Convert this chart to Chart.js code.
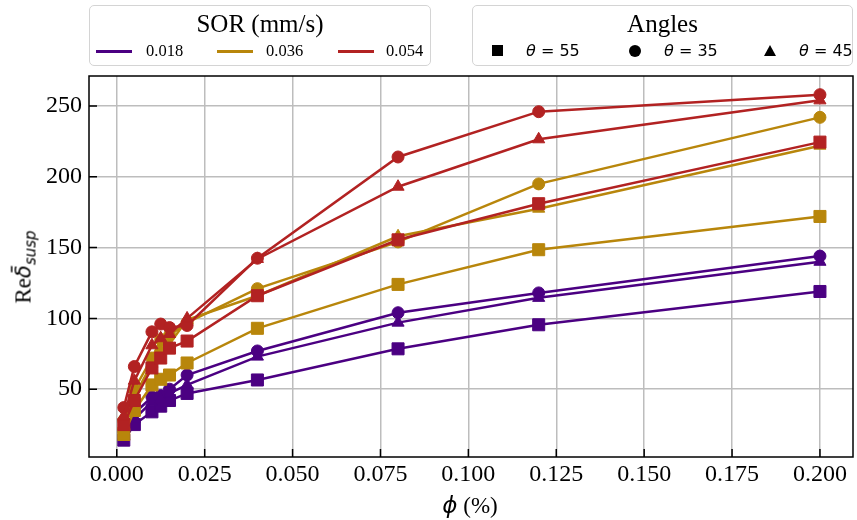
<!DOCTYPE html>
<html lang="en">
<head>
  <meta charset="UTF-8">
  <title>Re vs phi</title>
  <script src="https://cdn.jsdelivr.net/npm/chart.js"></script>
  <style>
    body { margin: 0; background: #fff; }
    #wrap { position: relative; width: 857px; height: 520px; }
    #chart { position: absolute; left: 0; top: 0; }
    .box {
      position: absolute; top: 5px; height: 61px;
      border: 1px solid #d4d4d4; border-radius: 5px; background: #fff;
      box-sizing: border-box;
    }
    .box .title {
      position: absolute; left: 0; right: 0; top: 3px; text-align: center;
      font-family: "Liberation Serif", serif; font-size: 25px; line-height: 30px;
    }
    .item { position: absolute; top: 35px; height: 20px; line-height: 20px; white-space: nowrap; }
    .serif { font-family: "Liberation Serif", serif; font-size: 16.5px; }
    .math { font-family: "DejaVu Sans", sans-serif; font-size: 16px; }
    .line { position: absolute; height: 2.5px; top: 44px; }
    .mk { position: absolute; background: #000; }
    #ytitle {
      position: absolute; left: 25px; top: 267px; white-space: nowrap;
      transform: translate(-50%, -50%) rotate(-90deg);
      font-family: "Liberation Serif", serif; font-size: 23px;
    }
    #ytitle .d { font-family: "DejaVu Sans", sans-serif; font-style: italic; font-size: 21px; }
    #ytitle sub { font-family: "DejaVu Sans", sans-serif; font-style: italic; font-size: 15px; vertical-align: -5px; }
    #xtitle {
      position: absolute; left: 470px; top: 505px; white-space: nowrap;
      transform: translate(-50%, -50%);
      font-family: "Liberation Serif", serif; font-size: 23px;
    }
    #xtitle .p { font-family: "DejaVu Sans", sans-serif; font-style: italic; }
  </style>
</head>
<body>
  <div id="wrap">
    <canvas id="chart" width="857" height="520"></canvas>

    <div class="box" style="left:89px; width:342px;">
      <div class="title">SOR (mm/s)</div>
      <div class="line" style="left:6px; width:36px; background:#4b0082;"></div>
      <div class="item serif" style="left:56px;">0.018</div>
      <div class="line" style="left:127px; width:36px; background:#b8860b;"></div>
      <div class="item serif" style="left:176px;">0.036</div>
      <div class="line" style="left:248px; width:36px; background:#b22222;"></div>
      <div class="item serif" style="left:296px;">0.054</div>
    </div>

    <div class="box" style="left:472px; width:381px;">
      <div class="title">Angles</div>
      <div class="mk" style="left:19px; top:39px; width:11px; height:11px;"></div>
      <div class="item math" style="left:53px;"><i>θ</i> = 55</div>
      <div class="mk" style="left:156px; top:39px; width:12px; height:12px; border-radius:50%;"></div>
      <div class="item math" style="left:191px;"><i>θ</i> = 35</div>
      <div class="mk" style="left:291px; top:39px; width:0; height:0; background:none;
           border-left:6px solid transparent; border-right:6px solid transparent; border-bottom:11px solid #000;"></div>
      <div class="item math" style="left:326px;"><i>θ</i> = 45</div>
    </div>

    <div id="ytitle">Re<span class="d">δ̄</span><sub>susp</sub></div>
    <div id="xtitle"><span class="p">ϕ</span> (%)</div>
  </div>

  <script>
    // volume fraction (%)
    const phi = [0.002, 0.005, 0.01, 0.0125, 0.015, 0.02, 0.04, 0.08, 0.12, 0.2];

    // Re values per SOR (mm/s) and angle
    const re018_55 = [14, 25, 34, 38, 42, 47, 56.5, 78.5, 95.5, 119];
    const re018_35 = [20, 33, 44.5, 45.5, 50, 60, 77, 104, 118, 144];
    const re018_45 = [17, 29, 41, 43, 47, 53, 73, 97, 114.5, 140];
    const re036_55 = [18, 35, 53, 57, 60, 68.5, 93, 124, 148.5, 172];
    const re036_35 = [28, 50, 72, 85, 88, 97, 121, 154, 195, 242];
    const re036_45 = [25, 45, 68, 78, 82, 99, 116, 158, 177.5, 222];
    const re054_55 = [25, 42, 65, 72, 79, 84, 116, 155.5, 181, 224.5];
    const re054_35 = [37, 66, 90.5, 96, 93.5, 95, 142.5, 214, 246, 258];
    const re054_45 = [31, 56, 81, 86, 89, 100, 142, 193, 226.5, 254];

    const xTicks = [0, 0.025, 0.05, 0.075, 0.1, 0.125, 0.15, 0.175, 0.2];
    const yTicks = [50, 100, 150, 200, 250];

    const sorColors = ['#4b0082', '#b8860b', '#b22222'];
    const angleStyles = [
      { style: 'rect', radius: 8.5 },
      { style: 'circle', radius: 6 },
      { style: 'triangle', radius: 7 }
    ];
    const series = [
      [re018_55, re018_35, re018_45],
      [re036_55, re036_35, re036_45],
      [re054_55, re054_35, re054_45]
    ];

    const datasets = [];
    let n = 0;
    series.forEach((group, s) => {
      group.forEach((vals, a) => {
        const c = sorColors[s];
        datasets.push({
          data: vals.map((v, i) => ({ x: phi[i], y: v })),
          borderColor: c,
          backgroundColor: c,
          borderWidth: 2.5,
          pointStyle: angleStyles[a].style,
          pointRadius: angleStyles[a].radius,
          pointBorderWidth: 1,
          pointBorderColor: c,
          pointBackgroundColor: c,
          tension: 0,
          clip: false,
          order: 20 - n
        });
        n++;
      });
    });

    // box around the plot and inward ticks
    const frame = {
      id: 'frame',
      afterDraw(chart) {
        const { ctx, chartArea: ca, scales } = chart;
        ctx.save();
        ctx.strokeStyle = '#000';
        ctx.lineWidth = 1.5;
        ctx.strokeRect(ca.left, ca.top, ca.right - ca.left, ca.bottom - ca.top);
        ctx.beginPath();
        xTicks.forEach(v => {
          const px = scales.x.getPixelForValue(v);
          ctx.moveTo(px, ca.bottom);
          ctx.lineTo(px, ca.bottom - 8);
        });
        yTicks.forEach(v => {
          const py = scales.y.getPixelForValue(v);
          ctx.moveTo(ca.left, py);
          ctx.lineTo(ca.left + 8, py);
        });
        ctx.stroke();
        ctx.restore();
      }
    };

    const tickFont = { family: '"Liberation Serif", serif', size: 24 };

    new Chart(document.getElementById('chart'), {
      type: 'line',
      data: { datasets },
      plugins: [frame],
      options: {
        responsive: false,
        animation: false,
        layout: { autoPadding: false, padding: { top: 76, right: 4, left: 0, bottom: 0 } },
        plugins: { legend: { display: false }, tooltip: { enabled: false } },
        scales: {
          x: {
            type: 'linear',
            min: -0.0079,
            max: 0.2094,
            afterBuildTicks: s => { s.ticks = xTicks.map(v => ({ value: v })); },
            afterFit: s => { s.height = 63; s.paddingLeft = 0; s.paddingRight = 0; },
            ticks: { font: tickFont, color: '#000', padding: 3, maxRotation: 0, callback: v => v.toFixed(3) },
            grid: { color: '#bdbdbd', lineWidth: 1.5, drawTicks: false },
            border: { display: false }
          },
          y: {
            min: 2.1,
            max: 271.2,
            afterBuildTicks: s => { s.ticks = yTicks.map(v => ({ value: v })); },
            afterFit: s => { s.width = 89; s.paddingTop = 0; s.paddingBottom = 0; },
            ticks: { font: tickFont, color: '#000', padding: 7, callback: v => String(v) },
            grid: { color: '#bdbdbd', lineWidth: 1.5, drawTicks: false },
            border: { display: false }
          }
        }
      }
    });
  </script>
</body>
</html>
